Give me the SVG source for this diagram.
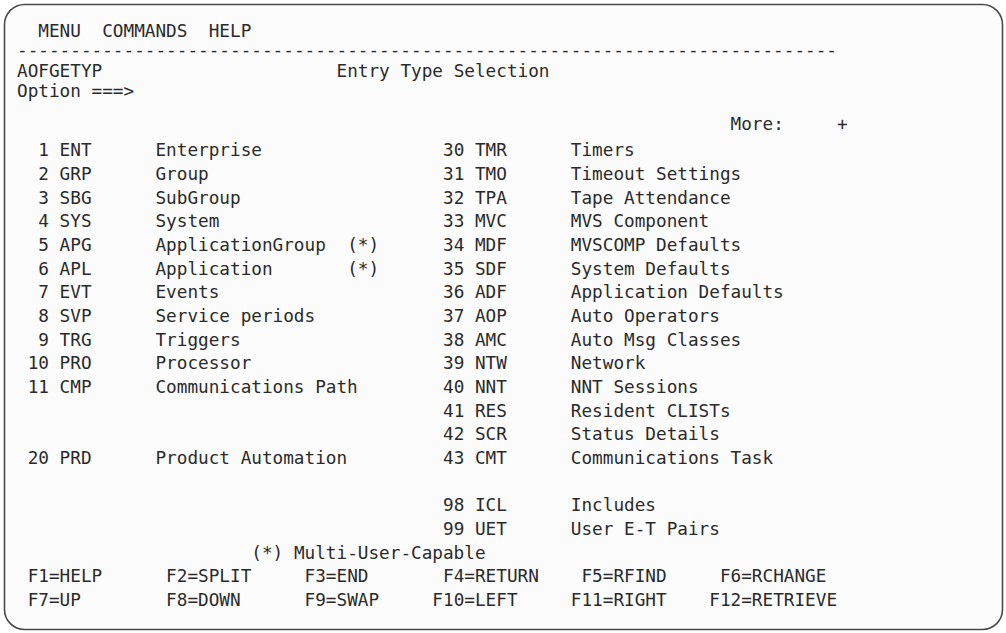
<svg xmlns="http://www.w3.org/2000/svg" width="1006" height="633" viewBox="0 0 1006 633">
  <style>
    /* 3270-style panel text on a 10.65px character grid starting at x=17 */
    .t { font-family: "DejaVu Sans Mono", "Liberation Mono", monospace; font-size: 17.7px; fill: #2a2a2a; white-space: pre; }
    .e { text-anchor: end; }
  </style>
  <!-- screen frame -->
  <rect x="4.5" y="4.5" width="998" height="625" rx="20" ry="20" fill="#fcfcfc" stroke="#4a4a4a" stroke-width="1.6"/>

  <!-- action bar and panel header -->
  <g id="header">
    <text class="t" x="38.3" y="37">MENU</text>
    <text class="t" x="102.2" y="37">COMMANDS</text>
    <text class="t" x="208.7" y="37">HELP</text>
    <text class="t" x="17" y="55.5" textLength="820" lengthAdjust="spacing">-----------------------------------------------------------------------------</text>
    <text class="t" x="17" y="76.7">AOFGETYP</text>
    <text class="t" x="336.5" y="76.7">Entry Type Selection</text>
    <text class="t" x="17" y="96.5">Option ===&gt;</text>
    <text class="t" x="730.55" y="130">More:</text>
    <text class="t" x="837.05" y="130">+</text>
  </g>

  <!-- left column of entry types -->
  <g id="left-column">
    <text class="t e" x="49" y="156.4">1</text><text class="t" x="59.6" y="156.4">ENT</text><text class="t" x="155.45" y="156.4">Enterprise</text>
    <text class="t e" x="49" y="180.0">2</text><text class="t" x="59.6" y="180.0">GRP</text><text class="t" x="155.45" y="180.0">Group</text>
    <text class="t e" x="49" y="203.7">3</text><text class="t" x="59.6" y="203.7">SBG</text><text class="t" x="155.45" y="203.7">SubGroup</text>
    <text class="t e" x="49" y="227.4">4</text><text class="t" x="59.6" y="227.4">SYS</text><text class="t" x="155.45" y="227.4">System</text>
    <text class="t e" x="49" y="251.0">5</text><text class="t" x="59.6" y="251.0">APG</text><text class="t" x="155.45" y="251.0">ApplicationGroup</text><text class="t" x="347.15" y="251.0">(*)</text>
    <text class="t e" x="49" y="274.7">6</text><text class="t" x="59.6" y="274.7">APL</text><text class="t" x="155.45" y="274.7">Application</text><text class="t" x="347.15" y="274.7">(*)</text>
    <text class="t e" x="49" y="298.3">7</text><text class="t" x="59.6" y="298.3">EVT</text><text class="t" x="155.45" y="298.3">Events</text>
    <text class="t e" x="49" y="322.0">8</text><text class="t" x="59.6" y="322.0">SVP</text><text class="t" x="155.45" y="322.0">Service periods</text>
    <text class="t e" x="49" y="345.6">9</text><text class="t" x="59.6" y="345.6">TRG</text><text class="t" x="155.45" y="345.6">Triggers</text>
    <text class="t e" x="49" y="369.3">10</text><text class="t" x="59.6" y="369.3">PRO</text><text class="t" x="155.45" y="369.3">Processor</text>
    <text class="t e" x="49" y="392.9">11</text><text class="t" x="59.6" y="392.9">CMP</text><text class="t" x="155.45" y="392.9">Communications Path</text>
    <text class="t e" x="49" y="463.9">20</text><text class="t" x="59.6" y="463.9">PRD</text><text class="t" x="155.45" y="463.9">Product Automation</text>
  </g>

  <!-- right column of entry types -->
  <g id="right-column">
    <text class="t e" x="464.3" y="156.4">30</text><text class="t" x="474.95" y="156.4">TMR</text><text class="t" x="570.8" y="156.4">Timers</text>
    <text class="t e" x="464.3" y="180.0">31</text><text class="t" x="474.95" y="180.0">TMO</text><text class="t" x="570.8" y="180.0">Timeout Settings</text>
    <text class="t e" x="464.3" y="203.7">32</text><text class="t" x="474.95" y="203.7">TPA</text><text class="t" x="570.8" y="203.7">Tape Attendance</text>
    <text class="t e" x="464.3" y="227.4">33</text><text class="t" x="474.95" y="227.4">MVC</text><text class="t" x="570.8" y="227.4">MVS Component</text>
    <text class="t e" x="464.3" y="251.0">34</text><text class="t" x="474.95" y="251.0">MDF</text><text class="t" x="570.8" y="251.0">MVSCOMP Defaults</text>
    <text class="t e" x="464.3" y="274.7">35</text><text class="t" x="474.95" y="274.7">SDF</text><text class="t" x="570.8" y="274.7">System Defaults</text>
    <text class="t e" x="464.3" y="298.3">36</text><text class="t" x="474.95" y="298.3">ADF</text><text class="t" x="570.8" y="298.3">Application Defaults</text>
    <text class="t e" x="464.3" y="322.0">37</text><text class="t" x="474.95" y="322.0">AOP</text><text class="t" x="570.8" y="322.0">Auto Operators</text>
    <text class="t e" x="464.3" y="345.6">38</text><text class="t" x="474.95" y="345.6">AMC</text><text class="t" x="570.8" y="345.6">Auto Msg Classes</text>
    <text class="t e" x="464.3" y="369.3">39</text><text class="t" x="474.95" y="369.3">NTW</text><text class="t" x="570.8" y="369.3">Network</text>
    <text class="t e" x="464.3" y="392.9">40</text><text class="t" x="474.95" y="392.9">NNT</text><text class="t" x="570.8" y="392.9">NNT Sessions</text>
    <text class="t e" x="464.3" y="416.6">41</text><text class="t" x="474.95" y="416.6">RES</text><text class="t" x="570.8" y="416.6">Resident CLISTs</text>
    <text class="t e" x="464.3" y="440.2">42</text><text class="t" x="474.95" y="440.2">SCR</text><text class="t" x="570.8" y="440.2">Status Details</text>
    <text class="t e" x="464.3" y="463.9">43</text><text class="t" x="474.95" y="463.9">CMT</text><text class="t" x="570.8" y="463.9">Communications Task</text>
    <text class="t e" x="464.3" y="511.2">98</text><text class="t" x="474.95" y="511.2">ICL</text><text class="t" x="570.8" y="511.2">Includes</text>
    <text class="t e" x="464.3" y="534.8">99</text><text class="t" x="474.95" y="534.8">UET</text><text class="t" x="570.8" y="534.8">User E-T Pairs</text>
  </g>

  <!-- legend and function keys -->
  <g id="footer">
    <text class="t" x="251.3" y="558.5">(*) Multi-User-Capable</text>
    <text class="t" x="27.65" y="582.1">F1=HELP</text>
    <text class="t" x="166.1" y="582.1">F2=SPLIT</text>
    <text class="t" x="304.55" y="582.1">F3=END</text>
    <text class="t" x="443" y="582.1">F4=RETURN</text>
    <text class="t" x="581.45" y="582.1">F5=RFIND</text>
    <text class="t" x="719.9" y="582.1">F6=RCHANGE</text>
    <text class="t" x="27.65" y="605.8">F7=UP</text>
    <text class="t" x="166.1" y="605.8">F8=DOWN</text>
    <text class="t" x="304.55" y="605.8">F9=SWAP</text>
    <text class="t" x="432.35" y="605.8">F10=LEFT</text>
    <text class="t" x="570.8" y="605.8">F11=RIGHT</text>
    <text class="t" x="709.25" y="605.8">F12=RETRIEVE</text>
  </g>
</svg>
